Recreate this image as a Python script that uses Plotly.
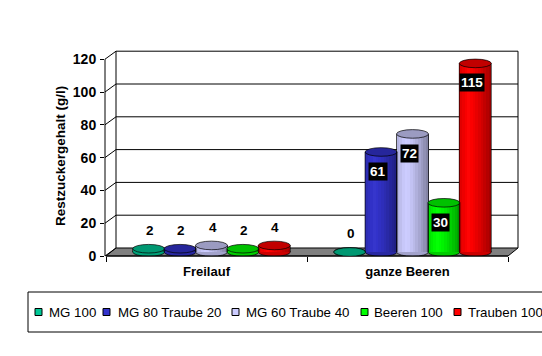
import plotly.graph_objects as go

# ---------------- data ----------------
categories = ["Freilauf", "ganze Beeren"]
series_names = ["MG 100", "MG 80 Traube 20", "MG 60 Traube 40", "Beeren 100", "Trauben 100"]
mg100 = [2, 0]
mg80_traube20 = [2, 61]
mg60_traube40 = [4, 72]
beeren100 = [2, 30]
trauben100 = [4, 115]
y_ticks = [0, 20, 40, 60, 80, 100, 120]
y_title = "Restzuckergehalt (g/l)"

series_values = [mg100, mg80_traube20, mg60_traube40, beeren100, trauben100]
colors = ["#00C896", "#3333CC", "#CCCCFF", "#00FF00", "#FF0000"]

# ---------------- geometry (pixels -> axis units) ----------------
W, H = 542, 356
L, R, T, B = 105, 522, 48, 256          # plot area in px
PX_X = 201.0                            # px per category
PX_Y = 1.64                             # px per value unit
xmin = -0.5 - (106 - L) / PX_X
xmax = xmin + (R - L) / PX_X
ymax = (B - T) / PX_Y
DXB, DYB = 10 / PX_X, 8 / PX_Y          # back-wall depth offset
DXM, DYM = DXB / 2, DYB / 2             # mid-depth offset
BAR_W = 32 / PX_X
BAR_SP = 31.4 / PX_X
ELL_H = 4.3 / PX_Y
N_STRIPS = 12
FONT = "Liberation Sans"


def px_x(x):   # data -> paper
    return (x - xmin) / (xmax - xmin)


def px_y(y):
    return y / ymax


def hex_rgb(h):
    h = h.lstrip("#")
    return tuple(int(h[i:i + 2], 16) for i in (0, 2, 4))


def shade(h, f):
    r, g, b = hex_rgb(h)
    if f <= 1:
        return "rgb(%d,%d,%d)" % (r * f, g * f, b * f)
    k = f - 1
    return "rgb(%d,%d,%d)" % (r + (255 - r) * k, g + (255 - g) * k, b + (255 - b) * k)


def profile(t):
    if t < 0.28:
        return 0.86 + 0.16 * (t / 0.28)
    return 1.02 - 0.40 * ((t - 0.28) / 0.72) ** 1.3


fig = go.Figure()
shapes = []
annotations = []

# ---------- 3D frame: floor, back wall, grid ----------
floor_path = "M %f,%f L %f,%f L %f,%f L %f,%f Z" % (
    px_x(-0.5), px_y(0), px_x(1.5), px_y(0),
    px_x(1.5 + DXB), px_y(DYB), px_x(-0.5 + DXB), px_y(DYB))
shapes.append(dict(type="path", xref="paper", yref="paper", path=floor_path,
                   fillcolor="#808080", line=dict(color="black", width=1), layer="below"))
for v in y_ticks:
    if v > 0:
        shapes.append(dict(type="line", xref="paper", yref="paper",
                           x0=px_x(-0.5 + DXB), x1=px_x(1.5 + DXB),
                           y0=px_y(v + DYB), y1=px_y(v + DYB),
                           line=dict(color="black", width=1), layer="below"))
    shapes.append(dict(type="line", xref="paper", yref="paper",
                       x0=0, x1=px_x(-0.5 + DXB), y0=px_y(v), y1=px_y(v + DYB),
                       line=dict(color="black", width=1), layer="below"))
for xe in (-0.5 + DXB, 1.5 + DXB):
    shapes.append(dict(type="line", xref="paper", yref="paper",
                       x0=px_x(xe), x1=px_x(xe), y0=px_y(DYB), y1=px_y(y_ticks[-1] + DYB),
                       line=dict(color="black", width=1), layer="below"))
shapes.append(dict(type="line", xref="paper", yref="paper", x0=0, x1=0,
                   y0=0, y1=px_y(y_ticks[-1]), line=dict(color="black", width=1)))
shapes.append(dict(type="line", xref="paper", yref="paper",
                   x0=px_x(-0.5), x1=px_x(1.5), y0=0, y1=0,
                   line=dict(color="black", width=1)))

# ---------- cylinders ----------
for i, (name, vals, col) in enumerate(zip(series_names, series_values, colors)):
    off0 = DXM + (i - 2) * BAR_SP - BAR_W / 2
    for j in range(N_STRIPS):
        t = (j + 0.5) / N_STRIPS
        sw = BAR_W / N_STRIPS
        fig.add_trace(go.Bar(
            x=[0, 1], y=vals, base=DYM,
            width=sw * (1.25 if j < N_STRIPS - 1 else 1.0),
            offset=off0 + j * sw,
            marker=dict(color=shade(col, profile(t)), line=dict(width=0)),
            showlegend=False, hoverinfo="skip"))
    for c, v in enumerate(vals):
        xl = c + off0
        xr = xl + BAR_W
        shapes.append(dict(type="circle", xref="x", yref="y", x0=xl, x1=xr,
                           y0=DYM - ELL_H, y1=DYM + ELL_H,
                           fillcolor=shade(col, 0.8), line=dict(color="black", width=0.7),
                           layer="between"))
        if v > 0:
            for xs in (xl, xr):
                shapes.append(dict(type="line", xref="x", yref="y", x0=xs, x1=xs,
                                   y0=DYM, y1=DYM + v,
                                   line=dict(color="black", width=0.7), layer="above"))
        shapes.append(dict(type="circle", xref="x", yref="y", x0=xl, x1=xr,
                           y0=DYM + v - ELL_H, y1=DYM + v + ELL_H,
                           fillcolor=shade(col, 0.76), line=dict(color="black", width=0.7),
                           layer="above"))
        xc = (xl + xr) / 2
        if v >= 20:
            annotations.append(dict(x=xc, y=v - 9.5, xref="x", yref="y", showarrow=False,
                                    text="<b>%d</b>" % v, xshift=-3,
                                    font=dict(color="white", size=13.5, family=FONT),
                                    bgcolor="black", borderpad=1))
        else:
            annotations.append(dict(x=xc, y=v + 13.5, xref="x", yref="y", showarrow=False,
                                    text="<b>%d</b>" % v, xshift=1,
                                    font=dict(color="black", size=13.5, family=FONT)))

# ---------- y-axis title ----------
annotations.append(dict(x=(60 - L) / (R - L), y=(B - 156) / (B - T), xref="paper", yref="paper",
                        xanchor="center", yanchor="middle",
                        text="<b>%s</b>" % y_title, textangle=-90, showarrow=False,
                        font=dict(size=13.5, color="black", family=FONT)))

# ---------- legend (drawn) ----------
def ppx(px):
    return (px - L) / (R - L)


def ppy(py):
    return (B - py) / (B - T)


shapes.append(dict(type="rect", xref="paper", yref="paper",
                   x0=ppx(28), x1=ppx(600), y0=ppy(332), y1=ppy(292),
                   fillcolor="white", line=dict(color="black", width=1)))
sq_x = [35, 103, 232, 361, 454]
tx_x = [47, 116, 244, 372, 466]
for name, col, sx, tx in zip(series_names, colors, sq_x, tx_x):
    shapes.append(dict(type="rect", xref="paper", yref="paper",
                       x0=ppx(sx), x1=ppx(sx + 7), y0=ppy(315.5), y1=ppy(308.5),
                       fillcolor=col, line=dict(color="black", width=1)))
    annotations.append(dict(x=ppx(tx), y=ppy(312), xref="paper", yref="paper",
                            text=name, showarrow=False, xanchor="left", yanchor="middle",
                            font=dict(size=13.3, color="black", family=FONT)))

fig.update_layout(
    width=W, height=H,
    margin=dict(l=L, r=W - R, t=T, b=H - B, pad=0),
    paper_bgcolor="white", plot_bgcolor="white",
    barmode="overlay", bargap=0,
    showlegend=False,
    shapes=shapes, annotations=annotations,
    xaxis=dict(range=[xmin, xmax], tickmode="array", tickvals=[0, 1], ticktext=categories,
               ticks="", showgrid=False, zeroline=False, showline=False,
               ticklabelstandoff=6,
               tickfont=dict(size=13, color="black", family=FONT, weight="bold"),
               minor=dict(tickmode="array", tickvals=[-0.5, 0.5, 1.5], ticks="outside",
                          ticklen=5, tickcolor="black", tickwidth=1, showgrid=False),
               fixedrange=True),
    yaxis=dict(range=[0, ymax], tickmode="array", tickvals=y_ticks,
               ticks="outside", ticklen=4, tickcolor="black", tickwidth=1,
               showgrid=False, zeroline=False, showline=False,
               ticklabelstandoff=1,
               tickfont=dict(size=14, color="black", family=FONT, weight="bold"),
               fixedrange=True),
)

fig.write_html("out.html", config={"displayModeBar": False})
